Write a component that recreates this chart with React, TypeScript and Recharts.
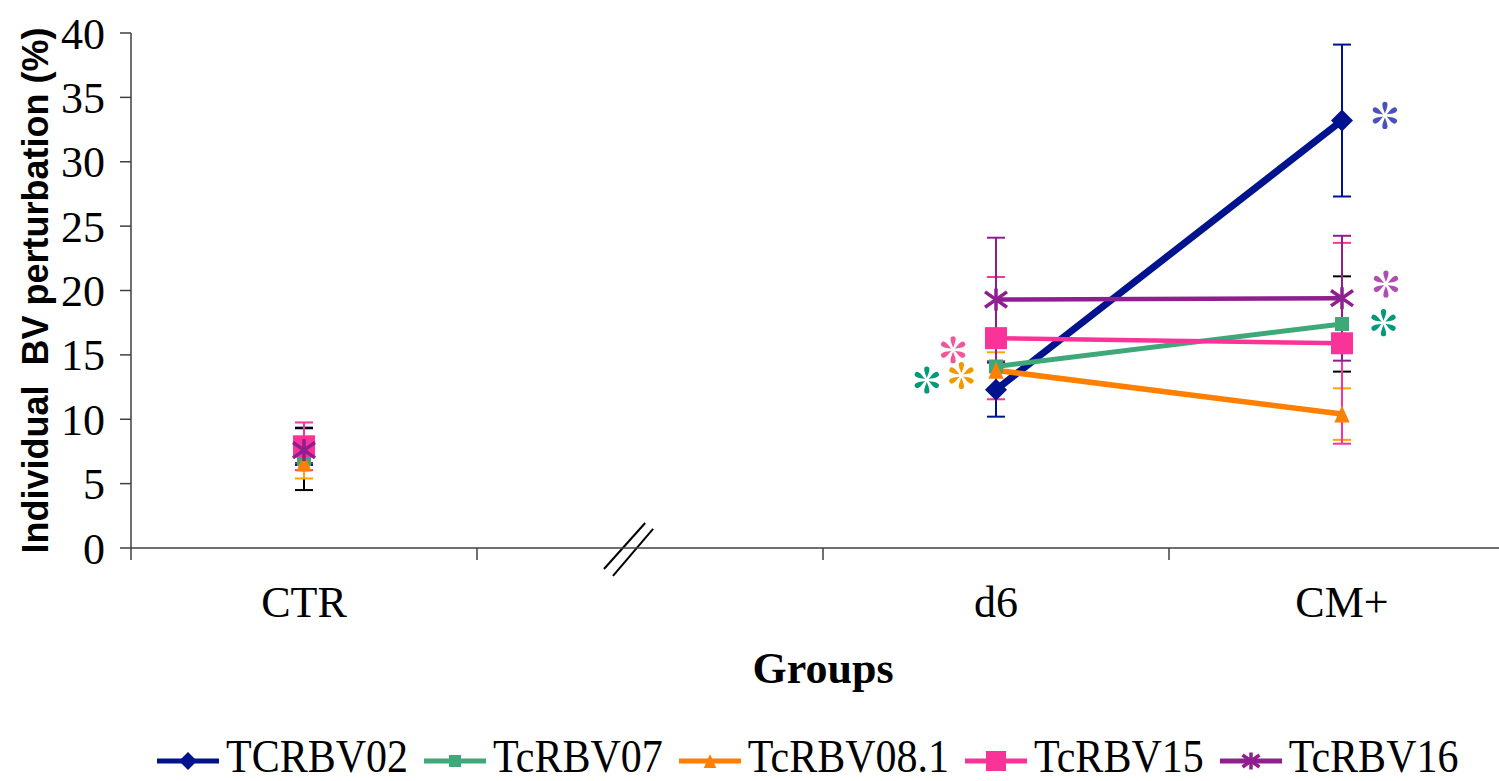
import React from 'react';
import { LineChart, Line, XAxis, YAxis, ErrorBar, ReferenceLine, ReferenceDot } from 'recharts';

// x bands: CTR, axis break, d6, CM+
const groups = ['CTR', '', 'd6', 'CM+'];
const seriesNames = ['TCRBV02', 'TcRBV07', 'TcRBV08.1', 'TcRBV15', 'TcRBV16'];

const tcrbv02 = [7.9, null, 12.3, 33.2];
const tcrbv02Sd = [1.45, null, 2.1, 5.9];
const tcrbv07 = [6.9, null, 14.1, 17.4];
const tcrbv07Sd = [2.4, null, 1.9, 3.7];
const tcrbv081 = [6.6, null, 13.8, 10.4];
const tcrbv081Sd = [1.2, null, 1.4, 2.0];
const tcrbv15 = [7.9, null, 16.3, 15.9];
const tcrbv15Sd = [1.85, null, 4.75, 7.8];
const tcrbv16 = [7.6, null, 19.3, 19.4];
const tcrbv16Sd = [1.0, null, 4.8, 4.85];

const yTicks = [0, 5, 10, 15, 20, 25, 30, 35, 40];

// significance marks: which series, which group, height, sideways shift
const starSeries = [1, 2, 3, 0, 4, 1];
const starGroup = [2, 2, 2, 3, 3, 3];
const starValue = [13.05, 13.4, 15.4, 33.6, 20.5, 17.5];
const starShift = [-0.2, -0.1, -0.124, 0.124, 0.127, 0.12];

const values = [tcrbv02, tcrbv07, tcrbv081, tcrbv15, tcrbv16];
const errors = [tcrbv02Sd, tcrbv07Sd, tcrbv081Sd, tcrbv15Sd, tcrbv16Sd];

const styles = [
  { color: '#00138f', err: '#00138f', star: '#4a50c0', width: 7, marker: 'diamond', size: 22, legendSize: 18 },
  { color: '#3fa878', err: '#000000', star: '#00997a', width: 5, marker: 'square', size: 14, legendSize: 12 },
  { color: '#ff7f00', err: '#ffa500', star: '#f09a00', width: 5.5, marker: 'triangle', size: 17, legendSize: 14 },
  { color: '#fa3399', err: '#fa3399', star: '#f5559b', width: 4.5, marker: 'square', size: 22, legendSize: 20 },
  { color: '#8f1f8f', err: '#8f1f8f', star: '#b04eb0', width: 4.5, marker: 'star', size: 22, legendSize: 17 },
];

const keyOf = (i: number) => `s${i}`;

const chartData = groups.map((g, gi) => {
  const row: any = { x: gi + 0.5, group: g };
  values.forEach((vals, si) => {
    row[keyOf(si)] = vals[gi];
    row[`${keyOf(si)}Sd`] = errors[si][gi];
  });
  return row;
});

const Marker = ({ kind, cx, cy, size, color }: any) => {
  const h = size / 2;
  if (kind === 'diamond') {
    return <polygon points={`${cx},${cy - h} ${cx + h},${cy} ${cx},${cy + h} ${cx - h},${cy}`} fill={color} />;
  }
  if (kind === 'square') {
    return <rect x={cx - h} y={cy - h} width={size} height={size} fill={color} />;
  }
  if (kind === 'triangle') {
    return <polygon points={`${cx},${cy - h} ${cx + h * 0.9},${cy + h} ${cx - h * 0.9},${cy + h}`} fill={color} />;
  }
  return (
    <g stroke={color} strokeWidth={3.5}>
      <line x1={cx - h} y1={cy - h * 0.7} x2={cx + h} y2={cy + h * 0.7} />
      <line x1={cx - h} y1={cy + h * 0.7} x2={cx + h} y2={cy - h * 0.7} />
      <line x1={cx} y1={cy - h} x2={cx} y2={cy + h} />
    </g>
  );
};

// six teardrop petals, pointed toward the middle
const petal = 'M0,-2 C-1,-5 -2.6,-8 -2.6,-11 A2.6,2.6 0 0 1 2.6,-11 C2.6,-8 1,-5 0,-2 Z';
const Asterisk = ({ cx, cy, color }: any) => (
  <g transform={`translate(${cx},${cy})`} fill={color}>
    {[0, 60, 120, 180, 240, 300].map((a) => (
      <path key={a} d={petal} transform={`rotate(${a})`} />
    ))}
  </g>
);

const GroupTick = ({ x, y, payload }: any) => {
  const v = payload.value;
  if (Number.isInteger(v)) {
    return <line x1={x} y1={y - 12} x2={x} y2={y} stroke="#404040" strokeWidth={1.5} />;
  }
  return (
    <text x={x} y={y + 57} textAnchor="middle" fontFamily="'Liberation Serif', serif" fontSize={44} fill="#000">
      {groups[Math.floor(v)]}
    </text>
  );
};

const Legend = () => (
  <div style={{ position: 'absolute', left: 157, top: 737, height: 42, display: 'flex', alignItems: 'center' }}>
    {seriesNames.map((name, i) => (
      <div key={name} style={{ display: 'flex', alignItems: 'center', marginRight: 16 }}>
        <svg width={62} height={42}>
          <line x1={0} y1={24} x2={62} y2={24} stroke={styles[i].color} strokeWidth={5} />
          <Marker kind={styles[i].marker} cx={31} cy={24} size={styles[i].legendSize} color={styles[i].color} />
        </svg>
        <span
          style={{
            marginLeft: 7,
            fontFamily: "'Liberation Serif', serif",
            fontSize: 42,
            lineHeight: 1,
            display: 'inline-block',
            transform: 'scaleY(1.12)',
            transformOrigin: '50% 85%',
          }}
        >
          {name}
        </span>
      </div>
    ))}
  </div>
);

export default function App() {
  return (
    <div style={{ position: 'absolute', left: 0, top: 0, width: 1499, height: 781, overflow: 'hidden', background: '#fff' }}>
      <LineChart width={1530} height={781} data={chartData} margin={{ top: 33, right: 15, left: 51, bottom: 93 }}>
        <XAxis
          type="number"
          dataKey="x"
          domain={[0, 4]}
          ticks={[0, 0.5, 1, 1.5, 2, 2.5, 3, 3.5, 4]}
          interval={0}
          tick={<GroupTick />}
          tickLine={false}
          tickSize={12}
          tickMargin={0}
          height={140}
          axisLine={{ stroke: '#404040', strokeWidth: 1.5 }}
          label={(props: any) => {
            const vb = props.viewBox;
            return (
              <text x={vb.x + vb.width / 2} y={vb.y + 135} textAnchor="middle" fontFamily="'Liberation Serif', serif" fontWeight="bold" fontSize={44} fill="#000">
                Groups
              </text>
            );
          }}
        />
        <YAxis
          type="number"
          domain={[0, 40]}
          ticks={yTicks}
          interval={0}
          width={80}
          tickSize={11}
          tickMargin={15}
          axisLine={{ stroke: '#404040', strokeWidth: 1.5 }}
          tickLine={{ stroke: '#404040', strokeWidth: 1.5 }}
          tick={{ fontFamily: "'Liberation Serif', serif", fontSize: 44, fill: '#000' }}
          label={(props: any) => {
            const vb = props.viewBox;
            const lx = vb.x - 3;
            const ly = vb.y + vb.height / 2;
            return (
              <text x={lx} y={ly} transform={`rotate(-90 ${lx} ${ly})`} textAnchor="middle" fontFamily="'Liberation Sans', sans-serif" fontWeight="bold" fontSize={36} fill="#000" style={{ whiteSpace: 'pre' }}>
                Individual  BV perturbation (%)
              </text>
            );
          }}
        />
        {/* axis break marks */}
        <ReferenceLine segment={[{ x: 1.367, y: -1.63 }, { x: 1.486, y: 1.94 }]} stroke="#000" strokeWidth={2} ifOverflow="visible" />
        <ReferenceLine segment={[{ x: 1.393, y: -2.17 }, { x: 1.509, y: 1.48 }]} stroke="#000" strokeWidth={2} ifOverflow="visible" />
        {seriesNames.map((name, i) => (
          <Line
            key={name}
            name={name}
            dataKey={keyOf(i)}
            stroke={styles[i].color}
            strokeWidth={styles[i].width}
            isAnimationActive={false}
            dot={(p: any) =>
              p.value == null || p.cy == null ? (
                <g key={`${name}-${p.index}`} />
              ) : (
                <Marker key={`${name}-${p.index}`} kind={styles[i].marker} cx={p.cx} cy={p.cy} size={styles[i].size} color={styles[i].color} />
              )
            }
            activeDot={false}
          >
            <ErrorBar dataKey={`${keyOf(i)}Sd`} direction="y" width={9} stroke={styles[i].err} strokeWidth={2} />
          </Line>
        ))}
        {starSeries.map((si, k) => (
          <ReferenceDot
            key={k}
            x={starGroup[k] + 0.5 + starShift[k]}
            y={starValue[k]}
            r={0}
            ifOverflow="visible"
            shape={(p: any) => <Asterisk cx={p.cx} cy={p.cy} color={styles[si].star} />}
          />
        ))}
      </LineChart>
      <Legend />
    </div>
  );
}
